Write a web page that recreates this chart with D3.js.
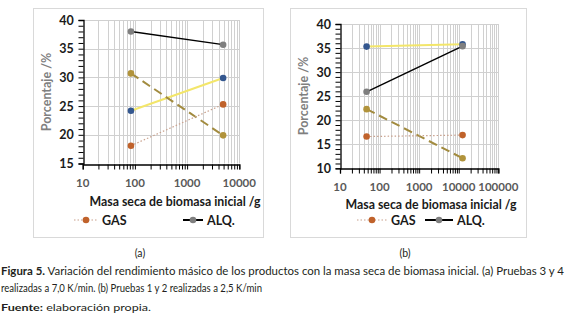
<!DOCTYPE html>
<html>
<head>
<meta charset="utf-8">
<script src="https://cdn.jsdelivr.net/npm/d3@7"></script>
<style>
  body { margin: 0; background: #fff; }
  svg { display: block; }
</style>
</head>
<body>
<div class="canvas"></div>
<script>
// ---- data ----
// panel (a): pruebas 3 y 4, 7,0 K/min
const massA = [84, 4900];
const gasA = [18.1, 25.3];
const alqA = [38.0, 35.7];
const yellowA = [24.2, 29.9];
const oliveA = [30.7, 19.9];

// panel (b): pruebas 1 y 2, 2,5 K/min
const massB = [47, 12500];
const gasB = [16.6, 16.9];
const alqB = [25.9, 35.4];
const yellowB = [35.3, 35.8];
const oliveB = [22.3, 12.1];

const yTicksA = [15, 20, 25, 30, 35, 40];
const yTicksB = [10, 15, 20, 25, 30, 35, 40];
const xTickLabelsA = [10, 100, 1000, 10000];
const xTickLabelsB = [10, 100, 1000, 10000, 100000];

const legendNames = ["GAS", "ALQ."];

const chartFont = "Lato, 'Liberation Sans', sans-serif";

const svg = d3.select('.canvas')
  .append('svg')
    .attr('width', 566)
    .attr('height', 324);

// series styling: line colour, marker colour, dash
const styles = {
  yellow: {line: "#f3e66a", marker: "#34578f", dash: null, width: 2},
  olive:  {line: "#a28b3f", marker: "#b1933b", dash: "9,5", width: 2},
  gas:    {line: "#c8a08c", marker: "#c0622b", dash: "1.5,2", width: 1.2},
  alq:    {line: "#000000", marker: "#7f7f7f", dash: null, width: 1.4}
};

function drawPanel(p) {
  const g = svg.append('g');

  // outer frame
  g.append('rect')
    .attr('x', p.box[0] + 0.5).attr('y', p.box[1] + 0.5)
    .attr('width', p.box[2]).attr('height', p.box[3])
    .attr('fill', 'none').attr('stroke', '#d9d9d9');

  const x = d3.scaleLog().domain(p.xDomain).range([p.left, p.right]);
  const y = d3.scaleLinear().domain(p.yDomain).range([p.bottom, p.top]);

  // log minor values
  const xMinor = [];
  for (let d = p.xDomain[0]; d < p.xDomain[1]; d *= 10) {
    for (let k = 1; k <= 9; k++) xMinor.push(d * k);
  }
  xMinor.push(p.xDomain[1]);

  // vertical grid
  g.selectAll('.vgrid').data(xMinor.slice(1))
    .enter().append('line')
      .attr('x1', d => Math.round(x(d)) + 0.5).attr('x2', d => Math.round(x(d)) + 0.5)
      .attr('y1', p.top).attr('y2', p.bottom)
      .attr('stroke', '#d0d0d0').attr('stroke-width', 1);

  // horizontal grid
  g.selectAll('.hgrid').data(p.yTicks.slice(1))
    .enter().append('line')
      .attr('x1', p.left).attr('x2', p.right)
      .attr('y1', d => Math.round(y(d)) + 0.5).attr('y2', d => Math.round(y(d)) + 0.5)
      .attr('stroke', '#d0d0d0').attr('stroke-width', 1);

  // y axis with a minor tick every unit
  const yMinor = d3.range(p.yDomain[0], p.yDomain[1] + 1, 1);
  g.append('g')
    .attr('transform', `translate(${Math.round(p.left) + 0.5},0)`)
    .call(d3.axisLeft(y).tickValues(yMinor).tickSize(5).tickFormat(''))
    .call(a => a.select('.domain').attr('stroke', '#000').attr('stroke-width', 1.3));

  g.selectAll('.ylab').data(p.yTicks)
    .enter().append('text')
      .attr('x', p.left - 9).attr('y', d => y(d) + 4.5)
      .attr('text-anchor', 'end')
      .attr('font-family', chartFont).attr('font-weight', 'bold').attr('font-size', 12.5)
      .attr('fill', '#1a1a1a')
      .text(d => d);

  // x axis, ticks on every log minor
  g.append('g')
    .attr('transform', `translate(0,${Math.round(p.bottom) + 0.5})`)
    .call(d3.axisBottom(x).tickValues(xMinor).tickSize(5).tickFormat(''))
    .call(a => a.select('.domain').attr('stroke', '#000').attr('stroke-width', 1.3));

  g.selectAll('.xlab').data(p.xLabels)
    .enter().append('text')
      .attr('x', d => x(d)).attr('y', p.bottom + 23)
      .attr('text-anchor', 'middle')
      .attr('font-family', chartFont).attr('font-weight', 'bold').attr('font-size', 11.5)
      .attr('fill', '#595959')
      .text(d => d);

  // axis titles
  g.append('text')
    .attr('x', p.xTitle[0]).attr('y', p.xTitle[1])
    .attr('text-anchor', 'middle')
    .attr('font-family', chartFont).attr('font-weight', 'bold').attr('font-size', 12.5)
    .attr('textLength', 171).attr('lengthAdjust', 'spacingAndGlyphs')
    .attr('fill', '#1a1a1a')
    .text('Masa seca de biomasa inicial /g');

  g.append('text')
    .attr('transform', `translate(${p.yTitle[0]},${p.yTitle[1]}) rotate(-90)`)
    .attr('text-anchor', 'middle')
    .attr('font-family', chartFont).attr('font-weight', 'bold').attr('font-size', 12.5)
    .attr('fill', '#7f7f7f')
    .text('Porcentaje /%');

  // series
  const line = d3.line().x(d => x(d[0])).y(d => y(d[1]));
  p.series.forEach(s => {
    const st = styles[s.key];
    const pts = p.mass.map((m, i) => [m, s.values[i]]);
    g.append('path')
      .attr('d', line(pts))
      .attr('fill', 'none')
      .attr('stroke', st.line)
      .attr('stroke-width', st.width)
      .attr('stroke-dasharray', st.dash);
    g.selectAll(null).data(pts)
      .enter().append('circle')
        .attr('cx', d => x(d[0])).attr('cy', d => y(d[1]))
        .attr('r', 3.3)
        .attr('fill', st.marker);
  });

  // legend (only GAS and ALQ. visible)
  p.legend.forEach((lg, i) => {
    const st = styles[lg.key];
    g.append('line')
      .attr('x1', lg.x1).attr('x2', lg.x2)
      .attr('y1', p.legendY).attr('y2', p.legendY)
      .attr('stroke', st.line).attr('stroke-width', st.width + (lg.key === 'alq' ? 0.6 : 0))
      .attr('stroke-dasharray', st.dash);
    g.append('circle')
      .attr('cx', (lg.x1 + lg.x2) / 2).attr('cy', p.legendY)
      .attr('r', 3.3).attr('fill', st.marker);
    g.append('text')
      .attr('x', lg.x2 + 4).attr('y', p.legendY + 4.5)
      .attr('font-family', chartFont).attr('font-weight', 'bold').attr('font-size', 12.5)
      .attr('fill', '#1a1a1a')
      .text(legendNames[i]);
  });
}

drawPanel({
  box: [33, 8, 230, 229],
  left: 82.7, right: 239.3, top: 20, bottom: 163.5,
  xDomain: [10, 10000], yDomain: [15, 40],
  yTicks: yTicksA, xLabels: xTickLabelsA,
  xTitle: [175, 206], yTitle: [51, 92],
  mass: massA,
  series: [
    {key: 'alq', values: alqA},
    {key: 'yellow', values: yellowA},
    {key: 'olive', values: oliveA},
    {key: 'gas', values: gasA}
  ],
  legendY: 220,
  legend: [{key: 'gas', x1: 74, x2: 98}, {key: 'alq', x1: 183, x2: 203}]
});

drawPanel({
  box: [290, 8, 236, 229],
  left: 340, right: 498.3, top: 24, bottom: 168.3,
  xDomain: [10, 100000], yDomain: [10, 40],
  yTicks: yTicksB, xLabels: xTickLabelsB,
  xTitle: [431, 209], yTitle: [308, 96],
  mass: massB,
  series: [
    {key: 'yellow', values: yellowB},
    {key: 'alq', values: alqB},
    {key: 'olive', values: oliveB},
    {key: 'gas', values: gasB}
  ],
  legendY: 220,
  legend: [{key: 'gas', x1: 357, x2: 387}, {key: 'alq', x1: 425, x2: 453}]
});

// ---- caption ----
const capFont = "Lato, 'DejaVu Sans', sans-serif";
svg.append('text').attr('x', 140).attr('y', 257).attr('text-anchor', 'middle')
  .attr('font-family', capFont).attr('font-size', 10.5).attr('fill', '#231f20').text('(a)');
svg.append('text').attr('x', 405).attr('y', 257).attr('text-anchor', 'middle')
  .attr('font-family', capFont).attr('font-size', 10.5).attr('fill', '#231f20').text('(b)');

const cap1 = svg.append('text').attr('x', 1).attr('y', 275)
  .attr('font-family', capFont).attr('font-size', 10.5).attr('fill', '#231f20')
  .attr('textLength', 563).attr('lengthAdjust', 'spacingAndGlyphs');
cap1.append('tspan').attr('font-weight', 'bold').text('Figura 5.');
cap1.append('tspan').text(' Variación del rendimiento másico de los productos con la masa seca de biomasa inicial. (a) Pruebas 3 y 4');

svg.append('text').attr('x', 1).attr('y', 292)
  .attr('font-family', capFont).attr('font-size', 10.5).attr('fill', '#231f20')
  .attr('textLength', 261).attr('lengthAdjust', 'spacingAndGlyphs')
  .text('realizadas a 7,0 K/min. (b) Pruebas 1 y 2 realizadas a 2,5 K/min');

const src = svg.append('text').attr('x', 1).attr('y', 311)
  .attr('font-family', capFont).attr('font-size', 9).attr('fill', '#231f20')
  .attr('textLength', 150).attr('lengthAdjust', 'spacingAndGlyphs');
src.append('tspan').attr('font-weight', 'bold').text('Fuente:');
src.append('tspan').text(' elaboración propia.');
</script>
</body>
</html>
